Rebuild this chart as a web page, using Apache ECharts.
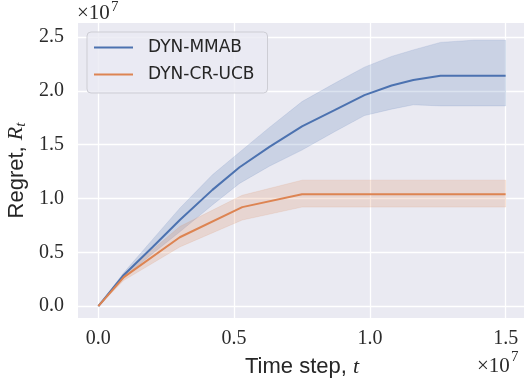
<!DOCTYPE html>
<html><head><meta charset="utf-8">
<script src="https://cdn.jsdelivr.net/npm/echarts@6/dist/echarts.min.js"></script>
<style>html,body{margin:0;padding:0;background:#fff}#c{width:524px;height:386px}</style>
</head><body><div id="c"></div>
<script>
// values in units of 1e7
const xTicks = [0, 0.5, 1.0, 1.5];
const yTicks = [0, 0.5, 1.0, 1.5, 2.0, 2.5];

const mmabT     = [0, 0.09, 0.2, 0.3, 0.42, 0.52, 0.63, 0.75, 0.87, 0.98, 1.08, 1.16, 1.26, 1.38, 1.5];
const mmabMean  = [0, 0.28, 0.55, 0.80, 1.08, 1.29, 1.48, 1.67, 1.82, 1.96, 2.05, 2.10, 2.14, 2.14, 2.14];
const mmabUpper = [0, 0.30, 0.62, 0.91, 1.22, 1.43, 1.66, 1.90, 2.07, 2.22, 2.32, 2.38, 2.45, 2.47, 2.47];
const mmabLower = [0, 0.26, 0.49, 0.69, 0.94, 1.14, 1.30, 1.45, 1.62, 1.77, 1.83, 1.87, 1.86, 1.86, 1.86];

const crT     = [0, 0.094, 0.3, 0.53, 0.75, 1.5];
const crMean  = [0, 0.27, 0.64, 0.92, 1.04, 1.04];
const crUpper = [0, 0.30, 0.74, 1.03, 1.17, 1.17];
const crLower = [0, 0.24, 0.55, 0.80, 0.92, 0.92];

const BLUE = '#4C72B0', ORANGE = '#DD8452';

function pairs(t, v) { return t.map((x, i) => [x, v[i]]); }
function bandRows(t, lo, hi) { return t.map((x, i) => [x, lo[i], hi[i]]); }

function bandSeries(rows, fill, edge) {
  return {
    type: 'custom', clip: true, silent: true, z: 1,
    data: rows,
    encode: { x: 0, y: [1, 2] },
    renderItem: function (params, api) {
      if (params.dataIndex !== 0) return null;
      const up = rows.map(r => api.coord([r[0], r[2]]));
      const lo = rows.map(r => api.coord([r[0], r[1]])).reverse();
      return {
        type: 'polygon',
        shape: { points: up.concat(lo) },
        style: { fill: fill, stroke: edge, lineWidth: 1 }
      };
    }
  };
}

const serif = 'Liberation Serif';
const sans = 'Liberation Sans';

const chart = echarts.init(document.getElementById('c'), null, { renderer: 'canvas' });
chart.setOption({
  animation: false,
  backgroundColor: '#ffffff',
  grid: { left: 78, top: 23, width: 448, height: 295, show: true, backgroundColor: '#EAEAF2', borderWidth: 0, containLabel: false, outerBoundsMode: 'none' },
  legend: {
    data: ['DYN-MMAB', 'DYN-CR-UCB'],
    left: 87, top: 32, orient: 'vertical',
    itemWidth: 39, itemHeight: 2, itemGap: 10,
    icon: 'rect',
    padding: [7, 13, 10, 7],
    backgroundColor: 'rgba(234,234,242,0.8)',
    borderColor: '#cdcdd4', borderWidth: 1, borderRadius: 4,
    textStyle: { fontFamily: 'DejaVu Sans', fontSize: 17, color: '#262626', padding: [0, 0, 0, 10] }
  },
  xAxis: {
    type: 'value', min: -0.075, max: 1.575,
    axisLine: { show: false },
    axisTick: { show: false, customValues: xTicks },
    axisLabel: { customValues: xTicks, formatter: v => v.toFixed(1), fontFamily: serif, fontSize: 20, color: '#2b2b2b', margin: 11 },
    splitLine: { show: true, lineStyle: { color: '#ffffff', width: 1.3 } },
    name: 'Time step, {i|t}', nameLocation: 'middle', nameGap: 38,
    nameTextStyle: { fontFamily: sans, fontSize: 22, color: '#262626',
      rich: { i: { fontFamily: serif, fontStyle: 'italic', fontSize: 22, color: '#262626' } } }
  },
  yAxis: {
    type: 'value', min: -0.11, max: 2.63,
    axisLine: { show: false },
    axisTick: { show: false, customValues: yTicks },
    axisLabel: { customValues: yTicks, formatter: v => v.toFixed(1), fontFamily: serif, fontSize: 20, color: '#2b2b2b', margin: 14 },
    splitLine: { show: true, lineStyle: { color: '#ffffff', width: 1.3 } },
    name: 'Regret, {i|R}{s|t}', nameLocation: 'middle', nameGap: 49,
    nameTextStyle: { fontFamily: sans, fontSize: 22, color: '#262626',
      rich: {
        i: { fontFamily: serif, fontStyle: 'italic', fontSize: 22, color: '#262626' },
        s: { fontFamily: serif, fontStyle: 'italic', fontSize: 15, color: '#262626', padding: [8, 0, 0, 0] }
      } }
  },
  series: [
    bandSeries(bandRows(mmabT, mmabLower, mmabUpper), 'rgba(76,114,176,0.2)', 'rgba(76,114,176,0.14)'),
    bandSeries(bandRows(crT, crLower, crUpper), 'rgba(221,132,82,0.2)', 'rgba(221,132,82,0.14)'),
    { name: 'DYN-MMAB', type: 'line', data: pairs(mmabT, mmabMean), showSymbol: false, symbol: 'none', z: 3,
      lineStyle: { color: BLUE, width: 2 }, itemStyle: { color: BLUE } },
    { name: 'DYN-CR-UCB', type: 'line', data: pairs(crT, crMean), showSymbol: false, symbol: 'none', z: 3,
      lineStyle: { color: ORANGE, width: 2 }, itemStyle: { color: ORANGE } }
  ],
  graphic: [
    { type: 'text', left: 77, top: 3, style: { text: '×10', font: '21px "Liberation Serif"', fill: '#2b2b2b' } },
    { type: 'text', left: 111, top: 0, style: { text: '7', font: '15px "Liberation Serif"', fill: '#2b2b2b' } },
    { type: 'text', left: 477, top: 356, style: { text: '×10', font: '21px "Liberation Serif"', fill: '#2b2b2b' } },
    { type: 'text', left: 511, top: 350, style: { text: '7', font: '15px "Liberation Serif"', fill: '#2b2b2b' } }
  ]
});
</script>
</body></html>
